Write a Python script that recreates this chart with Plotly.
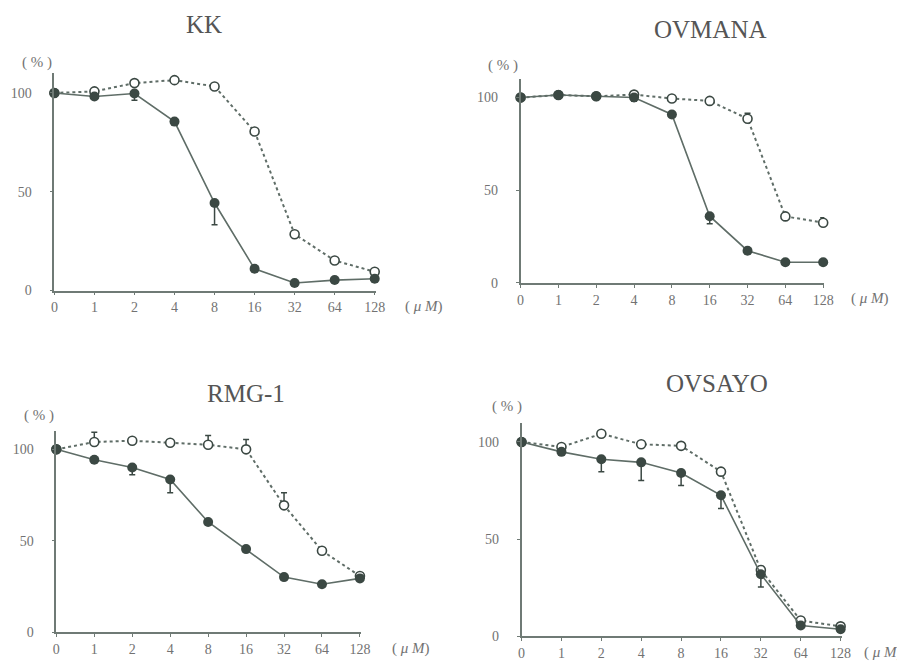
import plotly.graph_objects as go

conc = ["0", "1", "2", "4", "8", "16", "32", "64", "128"]
titles = ["KK", "OVMANA", "RMG-1", "OVSAYO"]

kk_filled = [100, 98.2, 99.7, 85.5, 44.3, 11, 3.8, 5.3, 6]
kk_filled_err = [0, 0.8, 3.4, 0, 11, 0, 0, 0, 0]
kk_open = [100, 100.8, 105, 106.5, 103.3, 80.5, 28.5, 15.2, 9.5]
kk_open_err = [0, 0, 0, 0, 0, 0, 0, 0, 0]

ovm_filled = [100, 101.4, 100.7, 100, 90.9, 36, 17.4, 11.2, 11.2]
ovm_filled_err = [0, 0, 0, 2, 0, 4, 0, 0, 0]
ovm_open = [100, 101.4, 100.7, 101.6, 99.5, 98.2, 88.6, 35.9, 32.5]
ovm_open_err = [0, 0, 0, 0, 0, 0, 3, 0, 2.7]

rmg_filled = [100, 94.3, 90.1, 83.5, 60.3, 45.5, 30.2, 26.3, 29.5]
rmg_filled_err = [0, 0, 4, 7.2, 0, 0, 0, 0, 0]
rmg_open = [100, 104, 104.7, 103.6, 102.5, 100, 69.4, 44.6, 30.8]
rmg_open_err = [0, 5.4, 0, 0, 5.1, 5.4, 6.9, 0, 1]

ovs_filled = [100, 94.9, 91.1, 89.5, 84, 72.5, 31.8, 5.4, 3.5]
ovs_filled_err = [0, 0, 6.4, 9.4, 6.4, 6.8, 6.5, 0, 0]
ovs_open = [100, 97.4, 104.2, 98.8, 98, 84.7, 34, 8, 5]
ovs_open_err = [0, 0, 0, 0, 0, 0, 0, 0, 0]

panels = [
    (kk_filled, kk_filled_err, kk_open, kk_open_err),
    (ovm_filled, ovm_filled_err, ovm_open, ovm_open_err),
    (rmg_filled, rmg_filled_err, rmg_open, rmg_open_err),
    (ovs_filled, ovs_filled_err, ovs_open, ovs_open_err),
]

W, H = 905, 665
# pixel layout: (x of first tick, x of last tick, y of zero, y of 110)
geom = [
    (43, 368, 286, 66),
    (516, 823, 278.3, 71.9),
    (45, 353, 632, 428.2),
    (517, 840.7, 635.7, 419.6),
]
title_pos = [(195, 17), (709, 22), (237, 390), (715, 380)]
pct_pos = [(25, 55), (498, 58), (27, 412), (502, 403)]
um_pos = [(418, 302), (870, 294), (405, 648), (884, 652)]

dark = "#3b4843"
line_c = "#5f6d67"
axis_c = "#6f7a75"
text_c = "#727272"

xs = list(range(len(conc)))
fig = go.Figure()
layout = dict(width=W, height=H, margin=dict(l=0, r=0, t=0, b=0),
              paper_bgcolor="white", plot_bgcolor="white", showlegend=False)
annotations = []

for i, (f, fe, o, oe) in enumerate(panels):
    n = "" if i == 0 else str(i + 1)
    xa, ya = "x" + n, "y" + n
    x0, x1, y0, y1 = geom[i]
    ext = 0.03
    step = (x1 - x0) / 8
    fig.add_trace(go.Scatter(
        x=xs, y=o, mode="lines+markers", xaxis=xa, yaxis=ya,
        line=dict(color=line_c, width=2, dash="dot"),
        marker=dict(symbol="circle", size=9, color="white", line=dict(width=1.6, color=dark)),
        error_y=dict(type="data", symmetric=False, array=oe, arrayminus=[0] * len(oe),
                     color=dark, thickness=1.5, width=3),
        cliponaxis=False))
    fig.add_trace(go.Scatter(
        x=xs, y=f, mode="lines+markers", xaxis=xa, yaxis=ya,
        line=dict(color=line_c, width=1.6),
        marker=dict(symbol="circle", size=10, color=dark),
        error_y=dict(type="data", symmetric=False, array=[0] * len(fe), arrayminus=fe,
                     color=dark, thickness=1.5, width=3),
        cliponaxis=False))
    layout["xaxis" + n] = dict(
        domain=[x0 / W, (x1 + ext * step) / W], range=[0, 8 + ext], anchor=ya,
        tickvals=xs, ticktext=conc, ticks="outside", ticklen=3, tickcolor=axis_c,
        showline=True, linecolor=axis_c, linewidth=1.5, showgrid=False, zeroline=False,
        ticklabelstandoff=0,
        tickfont=dict(family="Liberation Serif", size=14, color=text_c), fixedrange=True)
    layout["yaxis" + n] = dict(
        domain=[1 - y0 / H, 1 - y1 / H], range=[0, 110], anchor=xa,
        tickvals=[0, 50, 100], ticks="outside", ticklen=3, tickcolor=axis_c,
        showline=True, linecolor=axis_c, linewidth=1.5, showgrid=False, zeroline=False,
        ticklabelstandoff=15,
        tickfont=dict(family="Liberation Serif", size=14, color=text_c), fixedrange=True)
    tx, ty = title_pos[i]
    annotations.append(dict(text=titles[i], x=tx / W, y=1 - ty / H, xref="paper", yref="paper",
                            showarrow=False, xanchor="center", yanchor="middle",
                            font=dict(family="Liberation Serif", size=25, color="#555555")))
    px, py = pct_pos[i]
    annotations.append(dict(text="( % )", x=px / W, y=1 - py / H, xref="paper", yref="paper",
                            showarrow=False, xanchor="center", yanchor="middle",
                            font=dict(family="Liberation Serif", size=15, color=text_c)))
    ux, uy = um_pos[i]
    annotations.append(dict(text="( <i>μ M</i>)", x=ux / W, y=1 - uy / H, xref="paper", yref="paper",
                            showarrow=False, xanchor="center", yanchor="middle",
                            font=dict(family="Liberation Serif", size=15, color=text_c)))

layout["annotations"] = annotations
fig.update_layout(**layout)
fig.write_html("out.html")
